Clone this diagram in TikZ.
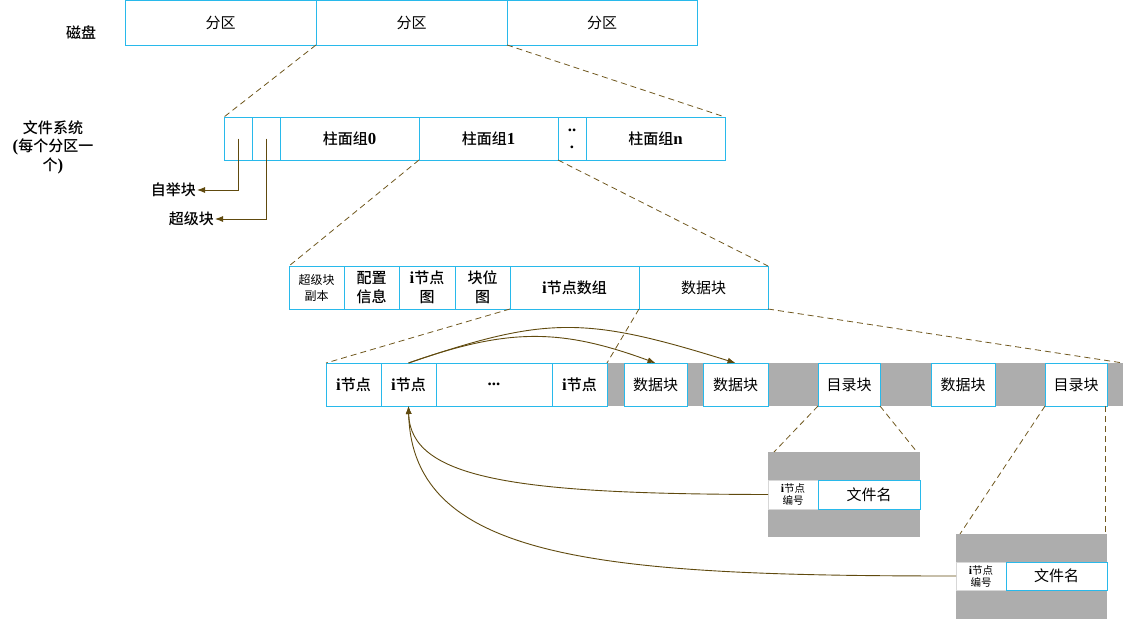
\documentclass[tikz,border=0pt]{standalone}
\usepackage{fontspec}
\setmainfont{Liberation Serif}
\newfontfamily\cjk[BoldFont={Noto Sans CJK SC Medium}]{Noto Sans CJK SC}
\newfontfamily\latf[Scale=1.12]{Liberation Serif}
\usetikzlibrary{arrows.meta}
\definecolor{cyanc}{RGB}{40,185,235}
\definecolor{dashc}{RGB}{112,88,30}
\definecolor{arrc}{RGB}{96,74,14}
\definecolor{grayc}{RGB}{173,173,173}
\definecolor{lgray}{RGB}{215,215,215}
\newcommand\lat[1]{{\latf\bfseries #1}}
\newcommand\bx[7][]{\node[box,minimum width={#5-#3},minimum height={#6-#4},#1] (#2) at ({(#3+#5)/2},{(#4+#6)/2}) {#7};}
\tikzset{
  box/.style={draw=cyanc,line width=1pt,fill=white,inner sep=0pt,outer sep=0pt,align=center,
    font=\cjk\fontsize{15}{19}\selectfont},
  bf/.style={font=\cjk\bfseries\fontsize{15}{19}\selectfont},
  small/.style={font=\cjk\fontsize{12}{16}\selectfont},
  tinyt/.style={font=\cjk\fontsize{10.5}{12}\selectfont,draw=lgray},
  grayblk/.style={draw=none,fill=grayc},
  lbl/.style={inner sep=1pt,align=center,font=\cjk\bfseries\fontsize{15}{18.5}\selectfont},
  dsh/.style={draw=dashc,dash pattern=on 6pt off 4pt,line width=0.8pt},
  arr/.style={draw=arrc,line width=0.9pt,-{Latex[length=8pt,width=6pt]}}
}
\begin{document}
\begin{tikzpicture}[x=1pt,y=-1pt]
\useasboundingbox (0,0) rectangle (1124,621);
% disk
\node[lbl] (disk) at (81,33) {磁盘};
\bx{p1}{125}{0}{316}{45}{分区}
\bx{p2}{316}{0}{507}{45}{分区}
\bx{p3}{507}{0}{697}{45}{分区}
% file system
\node[lbl,text width=90pt] (fslbl) at (53,147) {文件系统\\\lat{(}每个分区一\\个\lat{)}};
\bx{f1}{224}{117}{252}{160}{}
\bx{f2}{252}{117}{280}{160}{}
\bx[bf]{f3}{280}{117}{419}{160}{柱面组\lat{0}}
\bx[bf]{f4}{419}{117}{558}{160}{柱面组\lat{1}}
\bx[bf]{f5}{558}{117}{586}{160}{\lat{..}\\[-2pt]\lat{.}}
\bx[bf]{f6}{586}{117}{725}{160}{柱面组\lat{n}}
\draw[dsh] (p1.south east) -- (f1.north west);
\draw[dsh] (p2.south east) -- (f6.north east);
\node[lbl,anchor=east] (boot) at (197,190) {自举块};
\node[lbl,anchor=east] (sb) at (215,219) {超级块};
\draw[arr] (f1.center) |- (boot.east);
\draw[arr] (f2.center) |- (sb.east);
% cylinder group
\bx[small]{c1}{289}{266}{344}{309}{超级块\\副本}
\bx[bf]{c2}{344}{266}{399}{309}{配置\\信息}
\bx[bf]{c3}{399}{266}{455}{309}{\lat{i}节点\\图}
\bx[bf]{c4}{455}{266}{510}{309}{块位\\图}
\bx[bf]{c5}{510}{266}{639}{309}{\lat{i}节点数组}
\bx{c6}{639}{266}{768}{309}{数据块}
\draw[dsh] (f4.south west) -- (c1.north west);
\draw[dsh] (f4.south east) -- (c6.north east);
% inode row
\bx[grayblk]{band}{607}{363}{1123}{406}{}
\bx[bf]{n1}{326}{363}{381}{406}{\lat{i}节点}
\bx[bf]{n2}{381}{363}{436}{406}{\lat{i}节点}
\bx[bf]{n3}{436}{363}{552}{406}{\lat{...}}
\bx[bf]{n4}{552}{363}{607}{406}{\lat{i}节点}
\bx{d1}{624}{363}{687}{406}{数据块}
\bx{d2}{703}{363}{768}{406}{数据块}
\bx{r1}{818}{363}{880}{406}{目录块}
\bx{d3}{931}{363}{995}{406}{数据块}
\bx{r2}{1045}{363}{1107}{406}{目录块}
\draw[dsh] (c5.south west) -- (n1.north west);
\draw[dsh] (c5.south east) -- (n4.north east);
\draw[dsh] (c6.south east) -- (band.north east);
\draw[arr] (n2.north) .. controls (508,328) and (560,328) .. (d1.north);
\draw[arr] (n2.north) .. controls (546,316) and (585,316) .. (d2.north);
% directory block 1
\bx[grayblk]{g1}{768}{452}{920}{537}{}
\bx[tinyt]{dn1}{768}{480}{818}{509}{\lat{i}节点\\编号}
\bx{fn1}{818}{480}{920}{509}{文件名}
\draw[dsh] (r1.south west) -- ([xshift=6pt]g1.north west);
\draw[dsh] (r1.south east) -- ([xshift=-3pt]g1.north east);
% directory block 2
\bx[grayblk]{g2}{956}{534}{1107}{619}{}
\bx[tinyt]{dn2}{956}{562}{1006}{590}{\lat{i}节点\\编号}
\bx{fn2}{1006}{562}{1107}{590}{文件名}
\draw[dsh] (r2.south west) -- ([xshift=4pt]g2.north west);
\draw[dsh] ([xshift=-2pt]r2.south east) -- ([xshift=-2pt]g2.north east);
% pointers back to inode
\draw[arr] (dn1.west) .. controls (520,494) and (410,480) .. (n2.south);
\draw[arr] (dn2.west) .. controls (600,576) and (412,560) .. (n2.south);
\end{tikzpicture}
\end{document}
